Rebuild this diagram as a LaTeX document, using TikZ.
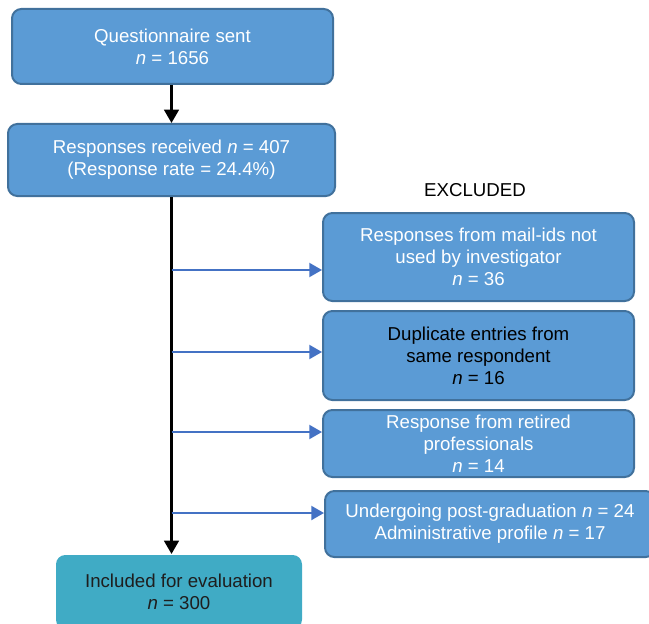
\documentclass[tikz,border=0pt]{standalone}
\usepackage{fontspec}
\setmainfont{Liberation Sans}
\usetikzlibrary{arrows.meta, positioning}
\definecolor{boxfill}{RGB}{91, 155, 213}
\definecolor{boxline}{RGB}{65, 113, 156}
\definecolor{branch}{RGB}{68, 114, 196}
\definecolor{kept}{RGB}{64, 171, 197}
\definecolor{dark}{RGB}{30, 30, 30}
\tikzset{
    stage/.style={rectangle, rounded corners=7pt, draw=boxline, line width=1.5pt, fill=boxfill, text=white, align=center, font=\fontsize{14}{16.5}\selectfont, inner sep=3pt},
    kept/.style={stage, draw=none, fill=kept, text=dark},
    arr/.style={-{Triangle[length=10pt, width=11pt]}, line width=1.9pt, black},
    barr/.style={-{Triangle[length=9.5pt, width=10.5pt]}, line width=1.5pt, branch}
}
\begin{document}
\begin{tikzpicture}[x=0.75pt, y=-0.75pt]
    \useasboundingbox (0,0) rectangle (649,624);
    \node[stage, minimum width=240.75pt, minimum height=56.25pt] (sent) at (172.5,46.5) {Questionnaire sent\\\textit{n} = 1656};
    \node[stage, minimum width=245.25pt, minimum height=54pt] (resp) at (171.5,160) {Responses received \textit{n} = 407\\(Response rate = 24.4\%)};
    \node[font=\fontsize{14}{16.5}\selectfont] (exhead) at (475,190) {EXCLUDED};
    \node[stage, minimum width=233.25pt, minimum height=66pt] (ex1) at (478.5,257) {Responses from mail-ids not\\used by investigator\\\textit{n} = 36};
    \node[stage, text=black, minimum width=233.25pt, minimum height=66.75pt] (ex2) at (478.5,355.5) {Duplicate entries from\\same respondent\\\textit{n} = 16};
    \node[stage, minimum width=233.25pt, minimum height=50.25pt] (ex3) at (478.5,443.5) {Response from retired\\professionals\\\textit{n} = 14};
    \node[stage, minimum width=247.5pt, minimum height=49.5pt] (ex4) at (490,524) {Undergoing post-graduation \textit{n} = 24\\Administrative profile \textit{n} = 17};
    \node[kept, minimum width=184.5pt, minimum height=55.5pt] (incl) at (179,592) {Included for evaluation\\\textit{n} = 300};
    % trunk
    \draw[arr] (sent.south -| resp.south) -- (resp.north);
    \draw[arr] (resp.south) -- (resp.south |- incl.north);
    % exclusions
    \coordinate (b1) at (171.5,270);
    \coordinate (b2) at (171.5,352);
    \coordinate (b3) at (171.5,432);
    \coordinate (b4) at (171.5,513);
    \draw[barr] (b1) -- (b1 -| ex1.west);
    \draw[barr] (b2) -- (b2 -| ex2.west);
    \draw[barr] (b3) -- (b3 -| ex3.west);
    \draw[barr] (b4) -- (b4 -| ex4.west);
\end{tikzpicture}
\end{document}
